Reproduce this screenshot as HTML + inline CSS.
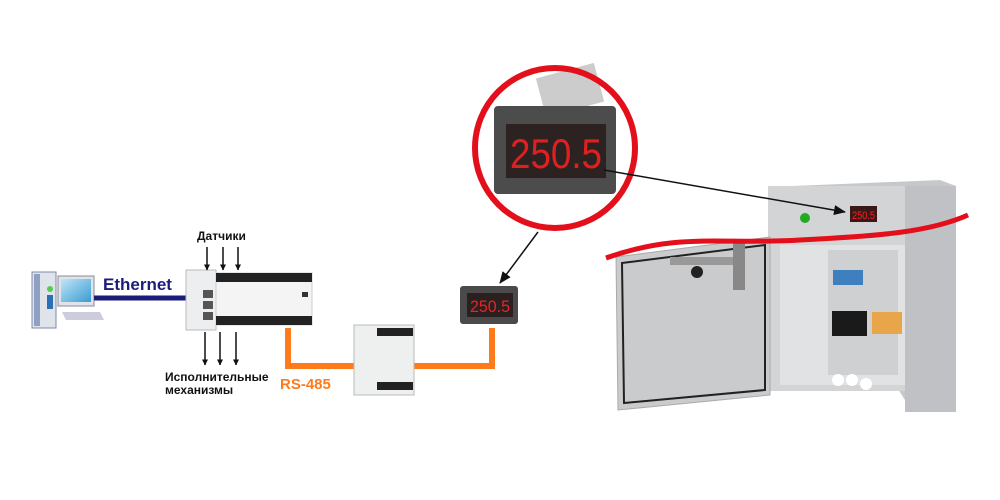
<!DOCTYPE html>
<html><head><meta charset="utf-8"><style>
body{margin:0;background:#fff;width:1000px;height:500px;overflow:hidden}
svg{display:block}
</style></head><body>
<svg width="1000" height="500" viewBox="0 0 1000 500" font-family="Liberation Sans, sans-serif">
<defs>
<marker id="ah" markerWidth="6" markerHeight="6" refX="5.5" refY="3" orient="auto" markerUnits="userSpaceOnUse"><path d="M0,0 L6,3 L0,6 z" fill="#111"/></marker>
<marker id="ah2" markerWidth="12" markerHeight="10" refX="11" refY="5" orient="auto" markerUnits="userSpaceOnUse"><path d="M0,0 L12,5 L0,10 z" fill="#111"/></marker>
<linearGradient id="mon" x1="0" y1="0" x2="1" y2="1"><stop offset="0" stop-color="#bfe6f7"/><stop offset="1" stop-color="#3b9bd1"/></linearGradient>
</defs>
<!-- PC -->
<rect x="32" y="272" width="24" height="56" fill="#dfe3ea" stroke="#7d8aa6"/>
<rect x="34" y="274" width="6" height="52" fill="#8fa0c4"/>
<circle cx="50" cy="289" r="3" fill="#5c5"/>
<rect x="47" y="295" width="6" height="14" fill="#2d6fb4"/>
<rect x="58" y="276" width="36" height="30" fill="#dfe3ea" stroke="#889"/>
<rect x="61" y="279" width="30" height="23" fill="url(#mon)"/>
<path d="M62,312 L100,312 L104,320 L66,320 z" fill="#ccd"/>
<!-- Ethernet -->
<line x1="94" y1="298" x2="190" y2="298" stroke="#1c1d7a" stroke-width="5"/>
<text x="103" y="290" font-size="17" font-weight="bold" fill="#1c1d7a">Ethernet</text>
<!-- PLC -->
<rect x="186" y="270" width="30" height="60" fill="#eceef0" stroke="#bbb"/>
<rect x="203" y="290" width="10" height="8" fill="#555"/><rect x="203" y="301" width="10" height="8" fill="#555"/><rect x="203" y="312" width="10" height="8" fill="#555"/>
<rect x="216" y="273" width="96" height="52" fill="#f4f4f4" stroke="#ccc"/>
<rect x="216" y="273" width="96" height="9" fill="#222"/>
<rect x="216" y="316" width="96" height="9" fill="#222"/>
<rect x="302" y="292" width="6" height="5" fill="#333"/>
<!-- sensor arrows -->
<text x="197" y="240" font-size="12" font-weight="bold" fill="#111">Датчики</text>
<g stroke="#111" stroke-width="1.5" marker-end="url(#ah)">
<line x1="207" y1="247" x2="207" y2="270"/><line x1="223" y1="247" x2="223" y2="270"/><line x1="238" y1="247" x2="238" y2="270"/>
<line x1="205" y1="332" x2="205" y2="365"/><line x1="220" y1="332" x2="220" y2="365"/><line x1="236" y1="332" x2="236" y2="365"/>
</g>
<text x="165" y="381" font-size="12" font-weight="bold" fill="#111">Исполнительные</text>
<text x="165" y="394" font-size="12" font-weight="bold" fill="#111">механизмы</text>
<!-- RS485 -->
<path d="M288,328 V366 H358 M412,366 H492 V328" fill="none" stroke="#ff7a1a" stroke-width="6"/>
<text x="280" y="389" font-size="15" font-weight="bold" fill="#ff7a1a">RS-485</text>
<rect x="354" y="325" width="60" height="70" fill="#eef0f0" stroke="#bbb"/>
<rect x="377" y="328" width="36" height="8" fill="#222"/>
<rect x="377" y="382" width="36" height="8" fill="#222"/>
<!-- small display -->
<rect x="460" y="286" width="58" height="38" fill="#4a4a4a" rx="3"/>
<rect x="467" y="293" width="46" height="24" fill="#2a2020"/>
<text x="470" y="312" font-size="17" fill="#e22" textLength="40" lengthAdjust="spacingAndGlyphs">250.5</text>
<!-- circle -->
<rect x="540" y="70" width="60" height="40" fill="#ccc" transform="rotate(-15 570 90)"/>
<rect x="494" y="106" width="122" height="88" fill="#4c4c4c" rx="4"/>
<rect x="506" y="124" width="100" height="54" fill="#2d2222"/>
<text x="510" y="168" font-size="42" fill="#e02020" textLength="92" lengthAdjust="spacingAndGlyphs">250.5</text>
<circle cx="555" cy="148" r="80" fill="none" stroke="#e3101c" stroke-width="6"/>
<line x1="538" y1="232" x2="500" y2="283" stroke="#111" stroke-width="1.5" marker-end="url(#ah2)"/>
<!-- cabinet -->
<path d="M768,187 L940,180 L956,186 L956,412 L905,400 Z" fill="#c6c8cb"/>
<rect x="768" y="186" width="140" height="205" fill="#d2d4d6"/>
<rect x="905" y="186" width="51" height="226" fill="#bfc1c4"/>
<rect x="780" y="245" width="125" height="140" fill="#e1e2e3"/>
<rect x="828" y="250" width="70" height="125" fill="#cfd0d2"/>
<rect x="833" y="270" width="30" height="15" fill="#3d7fbf"/>
<rect x="832" y="311" width="35" height="25" fill="#1a1a1a"/>
<rect x="872" y="312" width="30" height="22" fill="#e9a54a"/>
<circle cx="838" cy="380" r="6" fill="#fff"/><circle cx="852" cy="380" r="6" fill="#fff"/><circle cx="866" cy="384" r="6" fill="#fff"/>
<rect x="850" y="206" width="27" height="16" fill="#3a1818"/>
<text x="852" y="219" font-size="11" fill="#f22" textLength="23" lengthAdjust="spacingAndGlyphs">250.5</text>
<circle cx="805" cy="218" r="5" fill="#2a2"/>
<line x1="604" y1="170" x2="845" y2="212" stroke="#111" stroke-width="1.5" marker-end="url(#ah2)"/>
<!-- door -->
<path d="M616,257 L770,237 L770,395 L618,410 Z" fill="#c9cbcd" stroke="#aaa"/>
<path d="M622,263 L765,245 L765,390 L624,403 Z" fill="none" stroke="#222" stroke-width="2"/>
<rect x="670" y="257" width="65" height="8" fill="#999"/>
<circle cx="697" cy="272" r="6" fill="#222"/>
<rect x="733" y="240" width="12" height="50" fill="#888"/>
<!-- red wave -->
<path d="M606,258 C680,232 720,245 800,240 C880,236 930,232 968,215" fill="none" stroke="#e3101c" stroke-width="5"/>
</svg>
</body></html>
